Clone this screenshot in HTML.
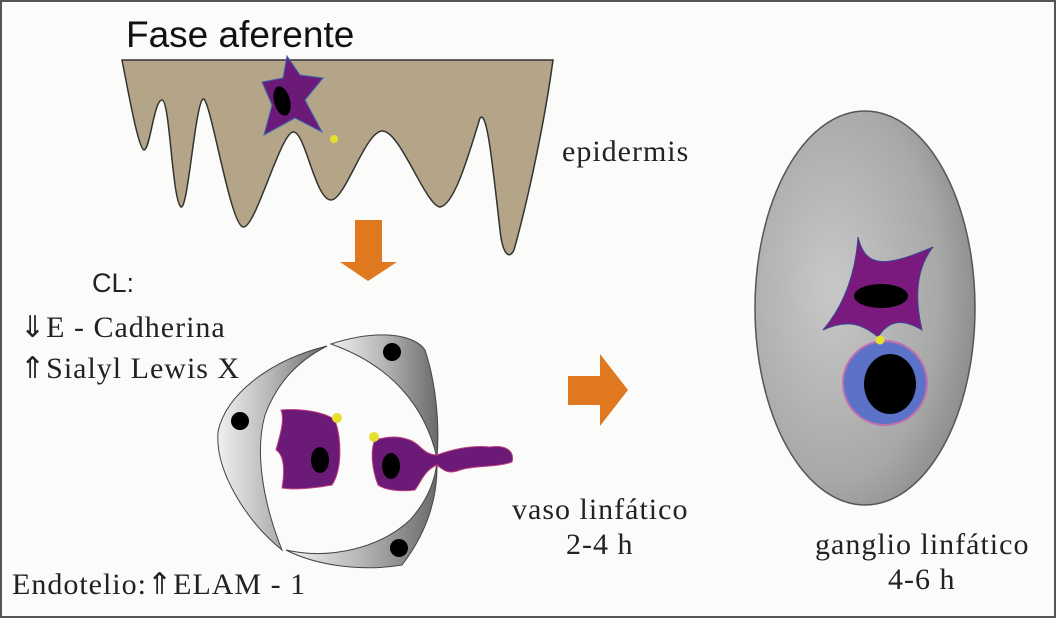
<!DOCTYPE html>
<html><head><style>
body{margin:0;background:#fff}
#c{position:relative;width:1056px;height:618px;background:#fbfbfa;overflow:hidden}
.t{position:absolute;font-family:"Liberation Serif",serif;font-size:30px;letter-spacing:1px;color:#222;white-space:nowrap}
.s{font-family:"Liberation Sans",sans-serif;letter-spacing:0}
</style></head><body><div id="c">
<svg width="1056" height="618" style="position:absolute;left:0;top:0">
<defs>
<linearGradient id="g1" x1="0" x2="1"><stop offset="0" stop-color="#f0f0f0"/><stop offset=".5" stop-color="#b5b5b5"/><stop offset="1" stop-color="#6a6a6a"/></linearGradient>
<radialGradient id="g2" cx=".35" cy=".45" r=".7"><stop offset="0" stop-color="#c8c8c8"/><stop offset=".7" stop-color="#a8a8a8"/><stop offset="1" stop-color="#888"/></radialGradient>
</defs>
<rect x="1" y="1" width="1054" height="616" fill="none" stroke="#555" stroke-width="2"/>
<path d="M122,60 L553,60 C545,120 528,200 514,250 C508,262 502,250 500,230 C492,160 487,110 480,118 C470,150 455,205 440,207 C425,205 400,130 382,131 C365,132 345,200 331,200 C315,200 305,130 293,132 C280,134 255,230 243,227 C230,225 210,95 203,99 C195,105 188,210 181,207 C172,200 170,100 162,100 C154,100 150,150 144,150 C138,148 128,90 122,60 Z" fill="#b4a488" stroke="#333" stroke-width="1.5"/>
<path d="M262,82 L283,78 L287,56 L300,75 L323,78 L305,100 L322,132 L295,118 L264,135 L272,105 Z" fill="#6b1a78" stroke="#3a6ab0" stroke-width="1"/>
<ellipse cx="282" cy="101" rx="8" ry="15" transform="rotate(-15 282 101)" fill="#000"/>
<circle cx="334" cy="139" r="4" fill="#e8e030"/>
<path d="M355,220 L382,220 L382,262 L397,262 L368,281 L340,262 L355,262 Z" fill="#e07820"/>
<path d="M568,376 L600,376 L600,354 L628,390 L600,426 L600,405 L568,405 Z" fill="#e07820"/>
<ellipse cx="865" cy="308" rx="110" ry="197" fill="url(#g2)" stroke="#555" stroke-width="1.5"/>
<path d="M858,237 C865,265 880,270 933,247 C915,270 915,300 922,330 C905,320 890,318 878,337 C860,322 845,320 823,330 C840,310 855,280 858,237 Z" fill="#7a1a7e" stroke="#3a4a90" stroke-width="1"/>
<ellipse cx="881" cy="296" rx="27" ry="12" fill="#000"/>
<circle cx="885" cy="383" r="42" fill="#5c72c8" stroke="#c070b0" stroke-width="2"/>
<ellipse cx="890" cy="384" rx="26" ry="30" fill="#000"/>
<circle cx="880" cy="340" r="4.5" fill="#e8e030"/>
<path d="M327,346 C270,360 225,395 218,432 C215,470 245,520 282,550 C262,500 255,450 265,415 C278,380 300,360 327,346 Z" fill="url(#g1)" stroke="#444"/>
<path d="M331,344 C380,328 415,335 425,350 C435,380 440,420 437,458 C425,405 390,365 331,344 Z" fill="url(#g1)" stroke="#444"/>
<path d="M437,462 C438,500 425,535 402,565 C360,572 315,565 286,550 C330,560 380,548 410,520 C428,500 435,480 437,462 Z" fill="url(#g1)" stroke="#444"/>
<circle cx="240" cy="421" r="9" fill="#000"/><circle cx="392" cy="352" r="9" fill="#000"/><circle cx="399" cy="548" r="9" fill="#000"/>
<path d="M281,410 C300,408 325,412 335,420 C342,440 342,470 332,485 C315,488 295,490 282,488 C285,470 284,455 276,450 C280,435 285,420 281,410 Z" fill="#6b1a78" stroke="#c04080" stroke-width="1"/>
<ellipse cx="320" cy="460" rx="9" ry="13" fill="#000"/>
<circle cx="337" cy="418" r="5" fill="#e8e030"/>
<path d="M375,440 C395,434 410,438 418,445 C425,452 430,455 437,455 C450,450 470,445 490,447 C505,445 515,450 512,462 C495,468 475,465 460,470 C450,474 445,472 437,465 C425,470 422,480 415,490 C400,492 385,490 378,485 C372,470 370,450 375,440 Z" fill="#6b1a78" stroke="#c04080" stroke-width="1"/>
<ellipse cx="391" cy="466" rx="9" ry="13" fill="#000"/>
<circle cx="374" cy="437" r="5" fill="#e8e030"/>
</svg>
<div class="t s" style="left:126px;top:14px;font-size:37px;color:#111">Fase aferente</div>
<div class="t" style="left:562px;top:135px">epidermis</div>
<div class="t s" style="left:92px;top:268px;font-size:27px">CL:</div>
<div class="t" style="left:20px;top:310px">⇓E - Cadherina</div>
<div class="t" style="left:20px;top:351px">⇑Sialyl Lewis X</div>
<div class="t" style="left:12px;top:567px">Endotelio:⇑ELAM - 1</div>
<div class="t" style="left:512px;top:493px">vaso linfático</div>
<div class="t" style="left:566px;top:528px">2-4 h</div>
<div class="t" style="left:815px;top:528px">ganglio linfático</div>
<div class="t" style="left:888px;top:563px">4-6 h</div>
</div></body></html>
